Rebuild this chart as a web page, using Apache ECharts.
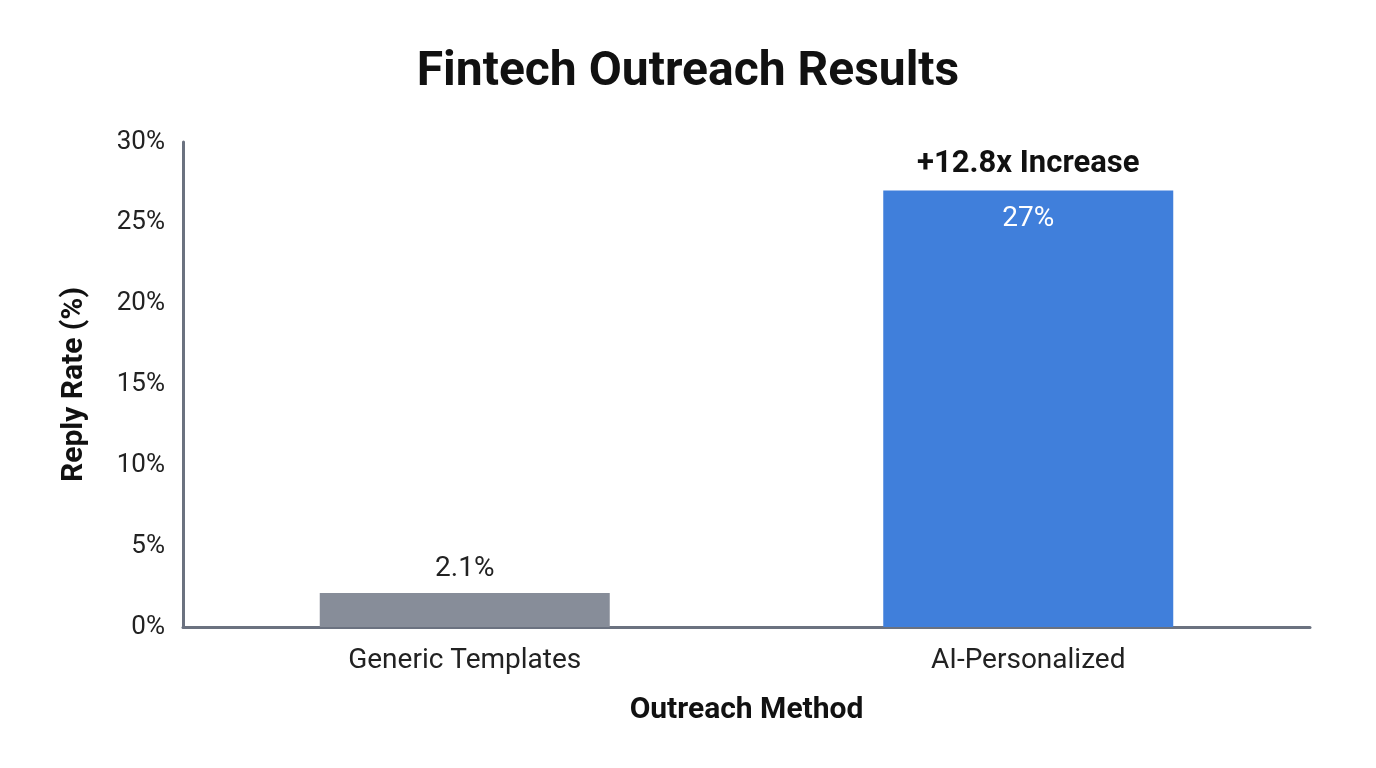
<!DOCTYPE html><html><head><meta charset="utf-8"><script src="https://cdn.jsdelivr.net/npm/echarts@6/dist/echarts.min.js"></script>
<style>html,body{margin:0;background:#fff}#c{width:1376px;height:768px}</style></head><body><div id="c"></div><script>
const categories=['Generic Templates','AI-Personalized'];
const values=[2.1,27];
const colors=['#878d99','#407fdb'];
const annotation='+12.8x Increase';
const yTicks=[0,5,10,15,20,25,30];
const c=echarts.init(document.getElementById('c'));
const F='Roboto';
c.setOption({
title:{text:'Fintech Outreach Results',left:'center',top:44,textStyle:{fontFamily:F,fontSize:48,fontWeight:'bold',color:'#111'}},
grid:{left:183,right:66,top:142,bottom:141},
xAxis:{type:'category',data:categories,name:'Outreach Method',nameLocation:'middle',nameGap:68,
nameTextStyle:{fontFamily:F,fontSize:30,fontWeight:'bold',color:'#111'},
axisLine:{lineStyle:{color:'#6b7280',width:3}},axisTick:{show:false},
axisLabel:{fontFamily:F,fontSize:28,color:'#222',margin:20}},
yAxis:{type:'value',min:yTicks[0],max:yTicks[yTicks.length-1],interval:5,name:'Reply Rate (%)',nameLocation:'middle',nameGap:94,
nameTextStyle:{fontFamily:F,fontSize:30,fontWeight:'bold',color:'#111'},
axisLine:{show:true,lineStyle:{color:'#6b7280',width:3}},axisTick:{show:false},splitLine:{show:false},
axisLabel:{fontFamily:F,fontSize:26,color:'#222',margin:18,formatter:v=>v+'%'}},
series:[{type:'bar',barWidth:290,
data:values.map((v,i)=>({value:v,itemStyle:{color:colors[i]},
label:i===1?{show:true,position:'insideTop',distance:14,color:'#fff',fontSize:28}:{show:true,position:'top',distance:10,color:'#222',fontSize:28}})),
label:{fontFamily:F,formatter:p=>p.value+'%'},
markPoint:{symbol:'circle',symbolSize:1,itemStyle:{color:'transparent'},
data:[{coord:[categories[1],values[1]],label:{show:true,position:'top',distance:10,formatter:annotation,fontFamily:F,fontSize:31,fontWeight:'bold',color:'#111'}}]}}]
});
</script></body></html>
